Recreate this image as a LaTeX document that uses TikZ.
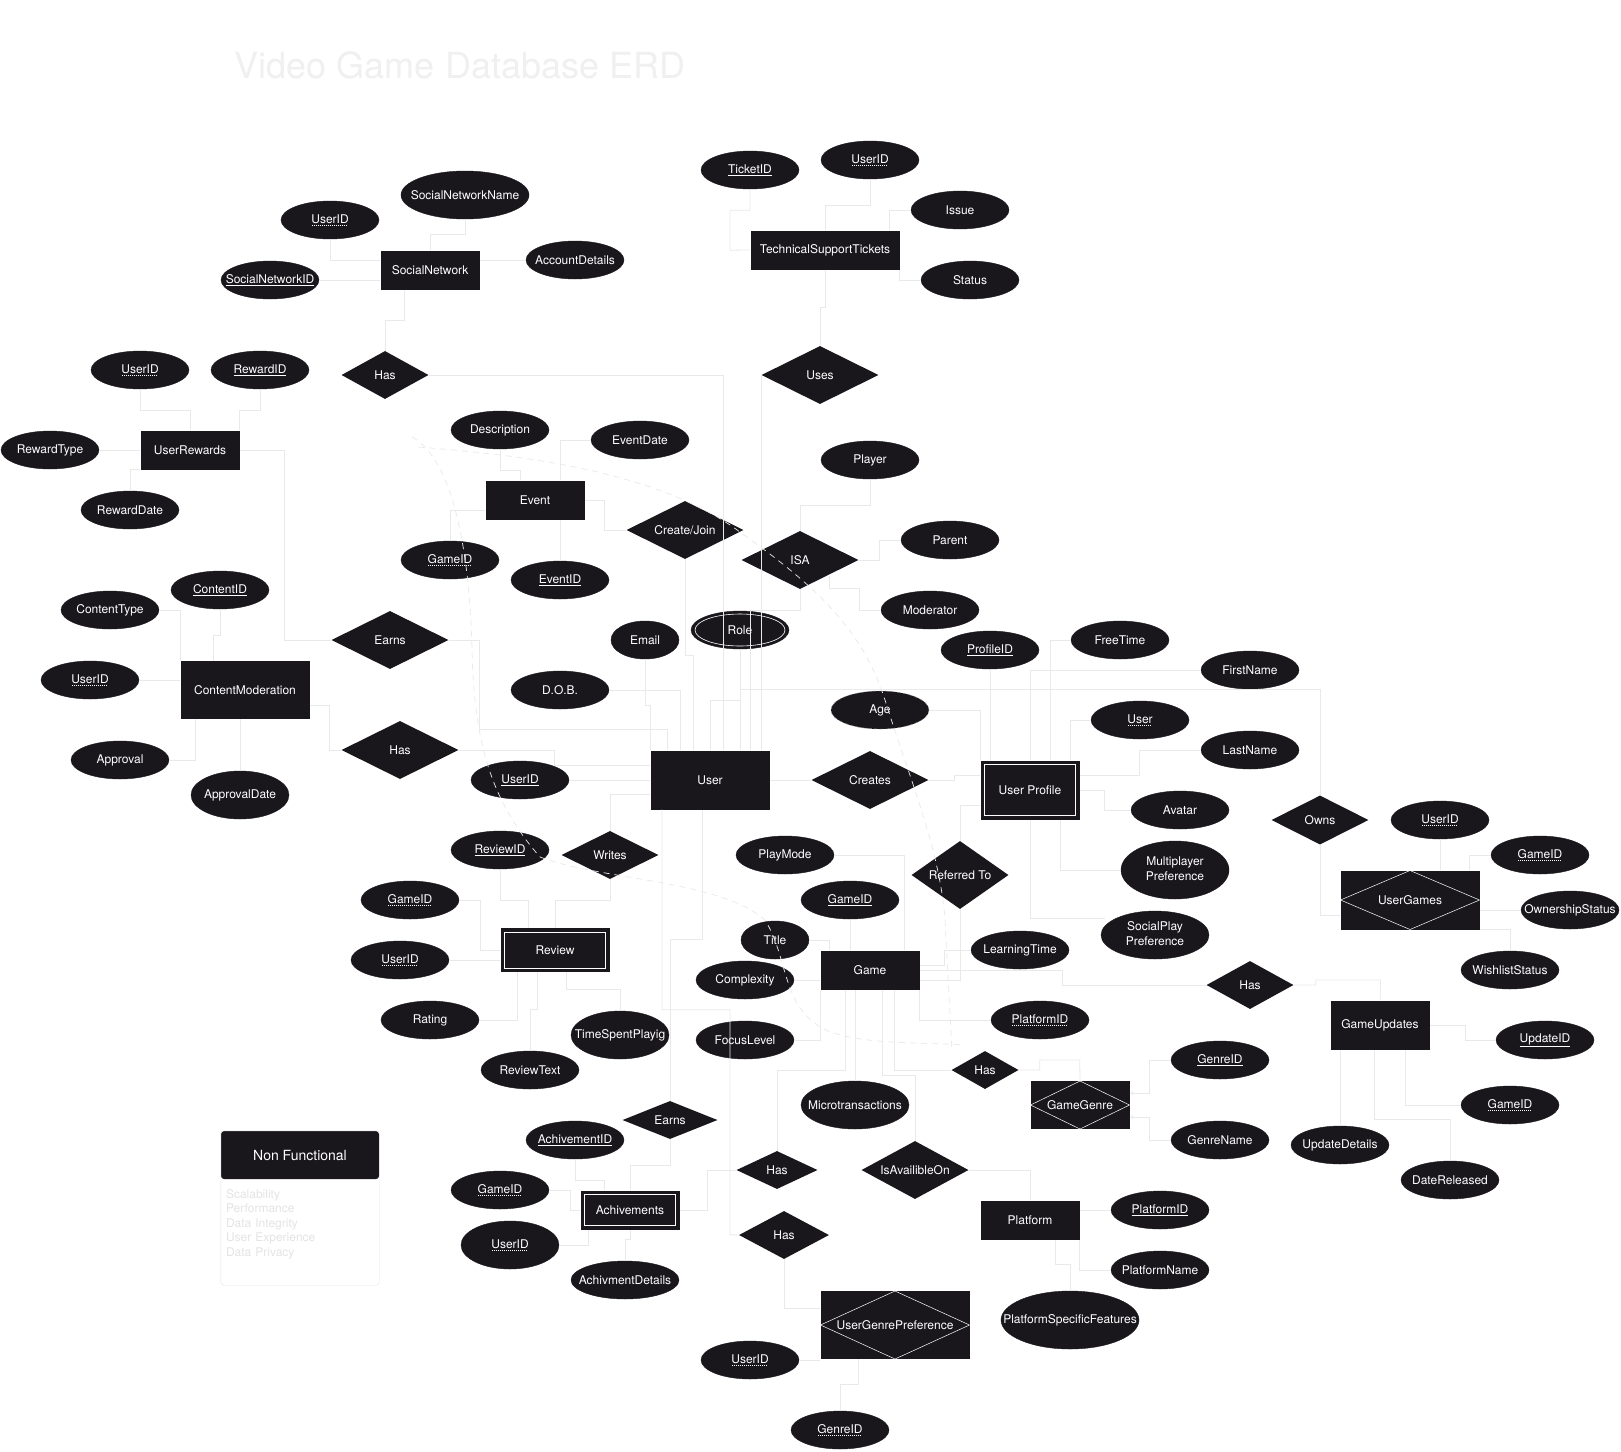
\documentclass[tikz,border=0pt]{standalone}
\usepackage{fontspec}
\setmainfont{TeX Gyre Heros}
\usetikzlibrary{shapes.geometric,calc}
\definecolor{nodefill}{HTML}{19171C}
\definecolor{linec}{HTML}{E9E9E9}
\definecolor{titlec}{HTML}{F0F0F0}
\definecolor{boxc}{HTML}{E4E4E4}
\newcommand\keyul[1]{\setbox0\hbox{#1}\vtop{\copy0\kern1.3pt\hrule width\wd0 height .7pt}}
\newcommand\dotul[1]{\setbox0\hbox{#1}\vtop{\copy0\nointerlineskip\kern1.4pt\hbox to\wd0{\leaders\hbox to 2pt{\hss\vrule width .9pt height .9pt depth 0pt\hss}\hfill}}}
\newcommand\twoline[2]{\begin{tabular}{@{}c@{}}#1\\#2\end{tabular}}
\newcommand\nodefont{\fontsize{12}{15}\selectfont}
\begin{document}
\begin{tikzpicture}[x=1pt, y=-1pt,
  attr/.style={ellipse, fill=nodefill, draw=nodefill, text=white, inner sep=0pt,
    minimum width=98pt, minimum height=38pt, font=\nodefont,
    execute at begin node={\hbox to 0pt\bgroup\hss}, execute at end node={\hss\egroup}},
  multi/.style={attr, path picture={\draw[white, line width=.6pt] (path picture bounding box.center) ellipse [x radius=45pt, y radius=16pt];}},
  derived/.style={attr, draw=white!55!black, dashed},
  ent/.style={rectangle, fill=nodefill, text=white, inner sep=0pt,
    minimum width=99pt, minimum height=39pt, font=\nodefont},
  weak/.style={ent, path picture={\draw[white, line width=.8pt] ([shift={(4pt,-4pt)}]path picture bounding box.north west) rectangle ([shift={(-4pt,4pt)}]path picture bounding box.south east);}},
  assoc/.style={ent, path picture={\draw[white, line width=.5pt] (path picture bounding box.west) -- (path picture bounding box.north) -- (path picture bounding box.east) -- (path picture bounding box.south) -- cycle;}},
  rel/.style={diamond, aspect=2, fill=nodefill, text=white, inner sep=0pt,
    minimum width=117pt, minimum height=58pt, font=\nodefont,
    execute at begin node={\hbox to 0pt\bgroup\hss}, execute at end node={\hss\egroup}},
  link/.style={draw=linec, line width=.8pt},
  curve/.style={draw=linec, line width=.7pt, dash pattern=on 6pt off 5pt},
  titletext/.style={text=titlec, font=\fontsize{36}{40}\selectfont, inner sep=0pt},
  nfhead/.style={rectangle, fill=nodefill, text=white, rounded corners=3pt, minimum width=158pt, minimum height=48pt, font=\fontsize{14}{16}\selectfont},
  nflist/.style={text=boxc, inner sep=0pt, text width=150pt, align=left, font=\fontsize{12}{14.5}\selectfont}]
\useasboundingbox (0,0) rectangle (1621,1451);
\fill[white] (0,0) rectangle (1621,1451);

\node[titletext] (title) at (460,65) {Video Game Database ERD};

% entities
\node[ent] (socialNet) at (430,270) {SocialNetwork};
\node[ent, minimum width=149pt] (techTickets) at (825,250) {TechnicalSupportTickets};
\node[ent] (userRewards) at (190,450) {UserRewards};
\node[ent] (event) at (535,500) {Event};
\node[ent, minimum width=129pt, minimum height=58pt] (contentMod) at (245,690) {ContentModeration};
\node[ent, minimum width=119pt, minimum height=59pt] (user) at (710,780) {User};
\node[weak, minimum height=59pt] (userProfile) at (1030,790) {User Profile};
\node[weak, minimum width=109pt, minimum height=44pt] (review) at (555,950) {Review};
\node[ent] (game) at (870,970) {Game};
\node[ent, minimum height=49pt] (gameUpdates) at (1380,1025) {GameUpdates};
\node[weak] (achievements) at (630,1210) {Achivements};
\node[ent] (platform) at (1030,1220) {Platform};
\node[assoc, minimum width=139pt, minimum height=59pt] (userGames) at (1410,900) {UserGames};
\node[assoc, minimum height=48pt] (gameGenre) at (1080,1105) {GameGenre};
\node[assoc, minimum width=149pt, minimum height=68pt] (userGenrePref) at (895,1325) {UserGenrePreference};

% relationships
\node[rel, minimum width=87pt, minimum height=48pt] (hasSocial) at (385,375) {Has};
\node[rel] (uses) at (820,375) {Uses};
\node[rel] (earnsReward) at (390,640) {Earns};
\node[rel] (hasContent) at (400,750) {Has};
\node[rel] (createJoin) at (685,530) {Create/Join};
\node[rel] (isa) at (800,560) {ISA};
\node[rel] (creates) at (870,780) {Creates};
\node[rel, minimum width=97pt, minimum height=68pt] (referredTo) at (960,875) {Referred To};
\node[rel, minimum width=97pt, minimum height=48pt] (writes) at (610,855) {Writes};
\node[rel, minimum width=97pt, minimum height=49pt] (owns) at (1320,820) {Owns};
\node[rel, minimum width=87pt, minimum height=48pt] (hasUpdates) at (1250,985) {Has};
\node[rel, minimum width=67pt, minimum height=38pt] (hasGenre) at (985,1070) {Has};
\node[rel, minimum width=95pt, minimum height=38pt] (earnsAch) at (670,1120) {Earns};
\node[rel, minimum width=81pt, minimum height=38pt] (hasAch) at (777,1170) {Has};
\node[rel, minimum width=107pt] (isAvail) at (915,1170) {IsAvailibleOn};
\node[rel, minimum width=90pt, minimum height=48pt] (hasPref) at (784,1235) {Has};

% attributes
\node[attr] (snUserID) at (330,220) {\dotul{UserID}};
\node[attr, minimum width=128pt, minimum height=48pt] (snName) at (465,195) {SocialNetworkName};
\node[attr] (snID) at (270,280) {\keyul{SocialNetworkID}};
\node[attr] (snAccount) at (575,260) {AccountDetails};
\node[attr] (tkID) at (750,170) {\keyul{TicketID}};
\node[attr] (tkUser) at (870,160) {\dotul{UserID}};
\node[attr] (tkIssue) at (960,210) {Issue};
\node[attr] (tkStatus) at (970,280) {Status};
\node[attr] (urUser) at (140,370) {\dotul{UserID}};
\node[attr] (urID) at (260,370) {\keyul{RewardID}};
\node[attr] (urType) at (50,450) {RewardType};
\node[attr] (urDate) at (130,510) {RewardDate};
\node[attr] (evDesc) at (500,430) {Description};
\node[attr] (evDate) at (640,440) {EventDate};
\node[attr] (evGame) at (450,560) {\dotul{GameID}};
\node[attr] (evID) at (560,580) {\keyul{EventID}};
\node[attr] (player) at (870,460) {Player};
\node[attr] (parent) at (950,540) {Parent};
\node[attr] (moderator) at (930,610) {Moderator};
\node[attr] (cmID) at (220,590) {\keyul{ContentID}};
\node[attr] (cmType) at (110,610) {ContentType};
\node[attr] (cmUser) at (90,680) {\dotul{UserID}};
\node[attr] (cmApproval) at (120,760) {Approval};
\node[attr, minimum height=48pt] (cmDate) at (240,795) {ApprovalDate};
\node[attr, minimum width=68pt] (email) at (645,640) {Email};
\node[multi] (role) at (740,630) {Role};
\node[attr] (dob) at (560,690) {D.O.B.};
\node[attr] (uID) at (520,780) {\keyul{UserID}};
\node[derived] (age) at (880,710) {Age};
\node[attr] (upID) at (990,650) {\keyul{ProfileID}};
\node[attr] (upFree) at (1120,640) {FreeTime};
\node[attr] (upFirst) at (1250,670) {FirstName};
\node[attr] (upUser) at (1140,720) {\dotul{User}};
\node[attr] (upLast) at (1250,750) {LastName};
\node[attr] (upAvatar) at (1180,810) {Avatar};
\node[attr, minimum width=108pt, minimum height=58pt] (upMulti) at (1175,870) {\twoline{Multiplayer}{Preference}};
\node[attr, minimum width=108pt, minimum height=48pt] (upSocial) at (1155,935) {\twoline{SocialPlay}{Preference}};
\node[attr] (ugUser) at (1440,820) {\dotul{UserID}};
\node[attr] (ugGame) at (1540,855) {\dotul{GameID}};
\node[attr] (ugOwn) at (1570,910) {OwnershipStatus};
\node[attr] (ugWish) at (1510,970) {WishlistStatus};
\node[attr] (rvID) at (500,850) {\keyul{ReviewID}};
\node[attr] (rvGame) at (410,900) {\dotul{GameID}};
\node[attr] (rvUser) at (400,960) {\dotul{UserID}};
\node[attr] (rvRating) at (430,1020) {Rating};
\node[attr] (rvText) at (530,1070) {ReviewText};
\node[attr, minimum height=48pt] (rvTime) at (620,1035) {TimeSpentPlayig};
\node[attr] (gmMode) at (785,855) {PlayMode};
\node[attr] (gmID) at (850,900) {\keyul{GameID}};
\node[attr, minimum width=68pt] (gmTitle) at (775,940) {Title};
\node[attr] (gmComplex) at (745,980) {Complexity};
\node[attr] (gmFocus) at (745,1040) {FocusLevel};
\node[attr] (gmLearn) at (1020,950) {LearningTime};
\node[attr] (gmPlatform) at (1040,1020) {\dotul{PlatformID}};
\node[attr, minimum width=108pt, minimum height=48pt] (gmMicro) at (855,1105) {Microtransactions};
\node[attr] (guID) at (1545,1040) {\keyul{UpdateID}};
\node[attr] (guGame) at (1510,1105) {\dotul{GameID}};
\node[attr] (guDetails) at (1340,1145) {UpdateDetails};
\node[attr] (guDate) at (1450,1180) {DateReleased};
\node[attr] (ggID) at (1220,1060) {\keyul{GenreID}};
\node[attr] (ggName) at (1220,1140) {GenreName};
\node[attr] (acID) at (575,1140) {\keyul{AchivementID}};
\node[attr] (acGame) at (500,1190) {\dotul{GameID}};
\node[attr, minimum height=48pt] (acUser) at (510,1245) {\dotul{UserID}};
\node[attr, minimum width=108pt] (acDetails) at (625,1280) {AchivmentDetails};
\node[attr] (plID) at (1160,1210) {\keyul{PlatformID}};
\node[attr] (plName) at (1160,1270) {PlatformName};
\node[attr, minimum width=138pt, minimum height=58pt] (plFeatures) at (1070,1320) {PlatformSpecificFeatures};
\node[attr] (ugpUser) at (750,1360) {\dotul{UserID}};
\node[attr] (ugpGenre) at (840,1430) {\dotul{GenreID}};

% non functional box
\node[nfhead] (nfHead) at (300,1155) {Non Functional};
\draw[boxc, rounded corners=3pt] (nfHead.north west) rectangle ($(nfHead.south east)+(0,106)$);
\node[nflist, anchor=north west] (nfList) at ($(nfHead.south west)+(5,10)$) {Scalability\\Performance\\Data Integrity\\User Experience\\Data Privacy};

% connectors
\draw[link] (snUserID.south) |- ($(socialNet.west)+(0,-10)$);
\draw[link] (snName.south) -- ++(0,15) -| (socialNet.north);
\draw[link] (snID) -- (snID -| socialNet.west);
\draw[link] (snAccount.west) -- (snAccount.west -| socialNet.east);
\draw[link] ($(socialNet.south west)+(24,0)$) -- ++(0,31) -| (hasSocial.north);
\draw[link] (hasSocial.east) -| ($(user.north)+(13,0)$);

\draw[link] (tkID.south) -- ++(0,21) -| ++(-20,40) -- (techTickets.west);
\draw[link] (tkUser.south) -- ++(0,26) -| (techTickets.north);
\draw[link] (tkIssue.west) -| ($(techTickets.north east)+(-10,0)$);
\draw[link] (tkStatus.west) -| (techTickets.south east);
\draw[link] (techTickets.south) -- ++(0,38) -| (uses.north);
\draw[link] (uses.west) -- (uses.west |- user.north);

\draw[link] (urUser.south) -- ++(0,21) -| (userRewards.north);
\draw[link] (urID.south) -- ++(0,21) -| (userRewards.north east);
\draw[link] (urType.east) -- (userRewards.west);
\draw[link] (urDate.north) |- (userRewards.south west);
\draw[link] (userRewards.east) -- ++(45,0) |- (earnsReward.west);
\draw[link] (earnsReward.east) -- ++(31,0) |- ($(user.north)+(-43,-21)$) -- ($(user.north)+(-43,0)$);

\draw[link] (cmID.south) -- ++(0,26) -| ($(contentMod.north)+(-32,0)$);
\draw[link] (cmType.east) -| (contentMod.north west);
\draw[link] (cmUser.east) -- (cmUser.east -| contentMod.west);
\draw[link] (cmApproval.east) -| ($(contentMod.south west)+(15,0)$);
\draw[link] (cmDate.north) -- (cmDate.north |- contentMod.south);
\draw[link] ($(contentMod.east)+(0,15)$) -- ++(20,0) |- (hasContent.west);
\draw[link] (hasContent.east) -- ++(96,0) |- ($(user.west)+(0,-15)$);

\draw[link] (evDesc.south) -- ++(0,21) -| ($(event.north)+(-15,0)$);
\draw[link] (evDate.west) -| ($(event.north)+(25,0)$);
\draw[link] (evGame.north) |- ($(event.west)+(0,10)$);
\draw[link] (evID.north) -- (evID.north |- event.south);
\draw[link] (event.east) -- ++(20,0) |- (createJoin.west);

\draw[link] (player.south) -- ++(0,26) -| (isa.north);
\draw[link] (parent.west) -- ++(-21,0) |- (isa.east);
\draw[link] (moderator.west) -- ++(-21,0) |- ++(-30,-22) -- ++(0,-12);

\draw[link] (uID.east) -- (user.west);
\draw[link] (email.south) -- ++(0,46) -| (user.north west);
\draw[link] (dob.east) -| ($(user.north)+(-30,0)$);
\draw[link] (createJoin.south) -- ++(0,96) -| ($(user.north)+(-17,0)$);
\draw[link] (role.south) -- ++(0,51) -| (user.north);
\draw[link] (isa.south) -- ++(0,21) -| ($(user.north)+(40,0)$);
\draw[link] ($(user.north)+(30,0)$) -- ++(0,-61) -| (owns.north);
\draw[link] (owns.south) |- ($(userGames.west)+(0,15)$);
\draw[link] (user.east) -- (creates.west);
\draw[link] (creates.east) -- ++(26,0) |- ($(userProfile.west)+(0,-15)$);
\draw[link] (age.east) -| (userProfile.north west);

\draw[link] (upID.south) -- (upID.south |- userProfile.north);
\draw[link] (upFree.west) -| ($(userProfile.north)+(20,0)$);
\draw[link] (upFirst.west) -| (userProfile.north);
\draw[link] (upUser.west) -| ($(userProfile.north)+(40,0)$);
\draw[link] (upLast.west) -- ++(-61,0) |- ($(userProfile.east)+(0,-15)$);
\draw[link] (upAvatar.west) -- ++(-26,0) |- (userProfile.east);
\draw[link] (upMulti.west) -| ($(userProfile.south)+(30,0)$);
\draw[link] (userProfile.south) |- ($(upSocial.west)+(4,-17)$);
\draw[link] ($(userProfile.west)+(0,15)$) -| (referredTo.north);
\draw[link] (referredTo.south) |- ($(game.east)+(0,10)$);

\draw[link] (ugUser.south) -- (ugUser.south |- userGames.north);
\draw[link] (ugGame.west) -| ($(userGames.north east)+(-10,0)$);
\draw[link] (ugOwn.west) -- (ugOwn.west -| userGames.east);
\draw[link] (ugWish.north) |- (userGames.south east);

\draw[link] ($(user.west)+(0,14)$) -| (writes.north);
\draw[link] (writes.south) -- ++(0,21) -| (review.north);
\draw[link] (rvID.south) -- ++(0,31) -| ($(review.north)+(-27,0)$);
\draw[link] (rvGame.east) -- ++(21,0) |- (review.west);
\draw[link] (rvUser.east) -- (rvUser.east -| review.west);
\draw[link] (rvRating.east) -| ($(review.south west)+(17,0)$);
\draw[link] (rvText.north) -- ++(0,-41) -| ($(review.south)+(-18,0)$);
\draw[link] (rvTime.north) -- ++(0,-21) -| ($(review.south)+(11,0)$);

\draw[link] (gmMode.east) -| ($(game.north east)+(-15,0)$);
\draw[link] (gmID.south) -- (gmID.south |- game.north);
\draw[link] (gmTitle.east) -| ($(game.north west)+(9,0)$);
\draw[link] (gmComplex.east) -- (gmComplex.east -| game.west);
\draw[link] (gmFocus.east) -| (game.south west);
\draw[link] (gmLearn.west) -- ++(-26,0) |- ($(game.east)+(0,-5)$);
\draw[link] (gmPlatform.west) -| (game.south east);
\draw[link] (gmMicro.north) -- (gmMicro.north |- game.south);
\draw[link] (game.east) -- ++(143,0) |- (hasUpdates.west);
\draw[link] (hasUpdates.east) -- ++(22,0) |- ++(65,-5) -- (gameUpdates.north);

\draw[link] (guID.west) -- ++(-30,0) |- (gameUpdates.east);
\draw[link] (guGame.west) -| ($(gameUpdates.south)+(25,0)$);
\draw[link] (guDetails.north) -- (guDetails.north |- gameUpdates.south);
\draw[link] (guDate.north) |- ($(gameUpdates.south)+(-6,70)$) -- ($(gameUpdates.south)+(-6,0)$);

\draw[link] ($(game.south east)+(-25,0)$) |- (hasGenre.west);
\draw[link] (hasGenre.east) -- ++(21,0) |- ++(40,-10) -- (gameGenre.north);
\draw[link, -stealth] (ggID.west) -- ++(-21,0) |- ($(gameGenre.east)+(0,-12)$);
\draw[link, -stealth] (ggName.west) -- ++(-21,0) |- ($(gameGenre.east)+(0,12)$);

\draw[link] ($(game.south)+(12,0)$) -- ++(0,86) -| (isAvail.north);
\draw[link] (isAvail.east) -| (platform.north);
\draw[link] (plID.west) -- (plID.west -| platform.east);
\draw[link] (plName.west) -| (platform.south east);
\draw[link] (plFeatures.north) -- ++(0,-26) -| ($(platform.south)+(25,0)$);

\draw[link] ($(game.south)+(-25,0)$) -- ++(0,81) -| (hasAch.north);
\draw[link] (hasAch.west) -- ++(-29,0) |- (achievements.east);
\draw[link] (earnsAch.south) -- ++(0,26) -| (achievements.north);
\draw[link] (earnsAch.north) -- ++(0,-161) -| ($(user.south)+(-8,0)$);
\draw[link] (acID.south) -- ++(0,21) -| ($(achievements.north)+(-26,0)$);
\draw[link] (acGame.east) -- ++(21,0) |- (achievements.west);
\draw[link] (acUser.east) -| ($(achievements.south west)+(8,0)$);
\draw[link] (acDetails.north) -- ++(0,-21) -| (achievements.south);

\draw[link] ($(user.south)+(-48,0)$) -- ++(0,200) -| ++(68,225) -- (hasPref.west);
\draw[link] (hasPref.south) |- ($(userGenrePref.west)+(0,-17)$);
\draw[link] (ugpUser.east) -- (ugpUser.east -| userGenrePref.west);
\draw[link] (ugpGenre.north) -- ++(0,-26) -| ($(userGenrePref.south)+(-37,0)$);

% faint dashed curves
\draw[curve] (412,437) .. controls (455,460) and (470,560) .. (472,650) .. controls (474,740) and (490,800) .. (540,857) .. controls (600,880) and (720,880) .. (765,920) .. controls (790,960) and (780,1010) .. (830,1032) .. controls (870,1045) and (920,1042) .. (965,1045);
\draw[curve] (418,447) .. controls (520,455) and (650,470) .. (733,527) .. controls (800,575) and (860,620) .. (885,700) .. controls (910,780) and (940,850) .. (945,920) .. controls (948,980) and (950,1010) .. (952,1052);
\end{tikzpicture}
\end{document}
